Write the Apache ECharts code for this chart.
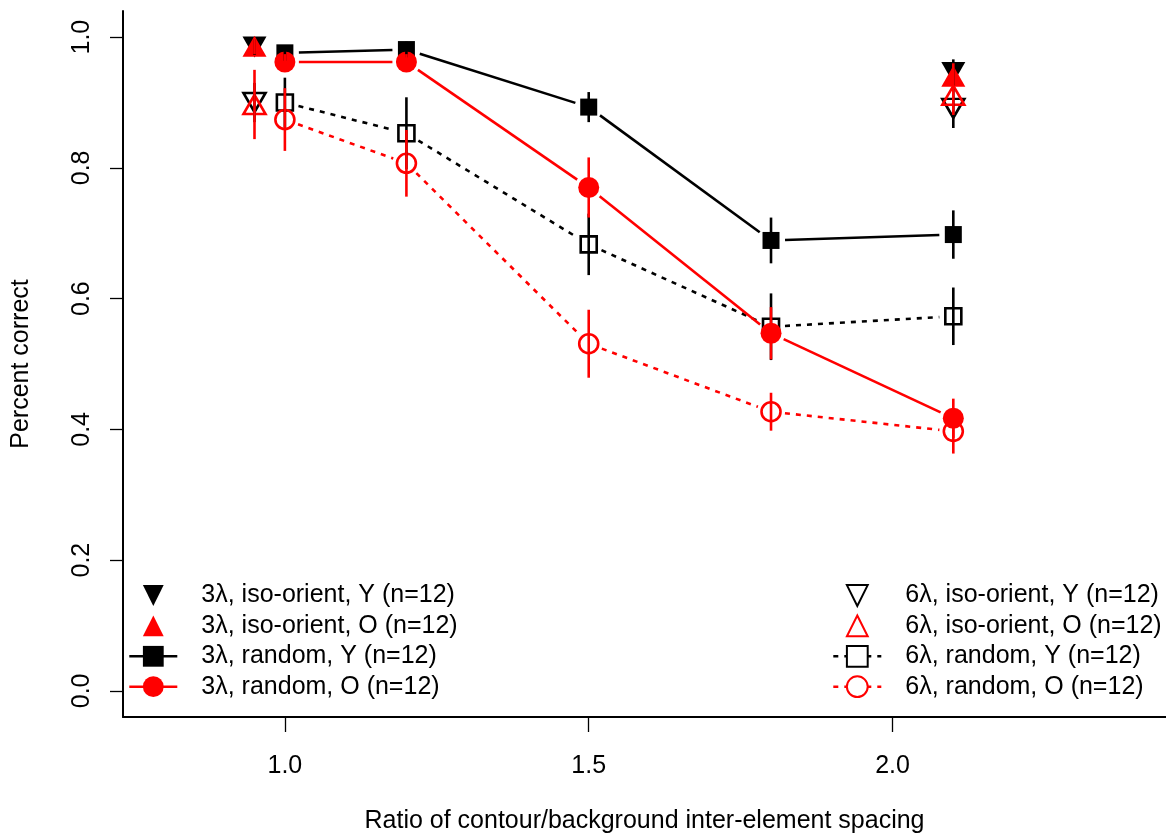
<!DOCTYPE html>
<html>
<head>
<meta charset="utf-8">
<script src="https://cdn.jsdelivr.net/npm/echarts@6/dist/echarts.min.js"></script>
<style>
  html, body { margin: 0; padding: 0; background: #fff; }
  #chart { width: 1166px; height: 833px; }
</style>
</head>
<body>
<div id="chart"></div>
<script>
// Spacing ratios
const xRandom = [1.0, 1.2, 1.5, 1.8, 2.1];
const xIso = [0.95, 2.1];
const xTicks = [1.0, 1.5, 2.0];
const yTicks = [0.0, 0.2, 0.4, 0.6, 0.8, 1.0];

// Mean percent correct and error half-widths
const iso3Y = [0.985, 0.946];
const iso3YErr = [0.012, 0.02];
const iso3O = [0.986, 0.940];
const iso3OErr = [0.012, 0.02];
const iso6Y = [0.900, 0.891];
const iso6YErr = [0.03, 0.03];
const iso6O = [0.897, 0.911];
const iso6OErr = [0.053, 0.03];

const rnd3Y = [0.976, 0.981, 0.893, 0.689, 0.698];
const rnd3YErr = [0.012, 0.012, 0.023, 0.035, 0.037];
const rnd3O = [0.962, 0.962, 0.770, 0.547, 0.417];
const rnd3OErr = [0.012, 0.012, 0.046, 0.040, 0.030];
const rnd6Y = [0.900, 0.853, 0.683, 0.557, 0.573];
const rnd6YErr = [0.038, 0.055, 0.047, 0.051, 0.044];
const rnd6O = [0.874, 0.807, 0.531, 0.427, 0.397];
const rnd6OErr = [0.048, 0.051, 0.052, 0.029, 0.034];

const names = [
  '3λ, iso-orient, Y (n=12)',
  '3λ, iso-orient, O (n=12)',
  '3λ, random, Y (n=12)',
  '3λ, random, O (n=12)',
  '6λ, iso-orient, Y (n=12)',
  '6λ, iso-orient, O (n=12)',
  '6λ, random, Y (n=12)',
  '6λ, random, O (n=12)'
];

const BLACK = '#000000';
const RED = '#ff0000';
const FONT = 'Liberation Sans, Arial, sans-serif';
const FS = 25;
const TRI_UP = 'path://M5,0 L10,8.66 L0,8.66 Z';
const TRI_DOWN = 'path://M0,0 L10,0 L5,8.66 Z';
const DOTS = [5, 6];

const pairs = (xs, ys) => xs.map((x, i) => [x, ys[i]]);
const bars = (xs, ys, es) => xs.map((x, i) => [x, ys[i] - es[i], ys[i] + es[i]]);
const segs = (xs, ys) => xs.slice(1).map((x, i) => [xs[i], ys[i], x, ys[i + 1]]);

// Vertical error bars
function errorSeries(xs, ys, es, color, z) {
  return {
    type: 'custom',
    silent: true,
    z: z,
    encode: { x: 0, y: [1, 2] },
    data: bars(xs, ys, es),
    renderItem: function (params, api) {
      const lo = api.coord([api.value(0), api.value(1)]);
      const hi = api.coord([api.value(0), api.value(2)]);
      return {
        type: 'line',
        shape: { x1: lo[0], y1: lo[1], x2: hi[0], y2: hi[1] },
        style: { stroke: color, lineWidth: 2.6 }
      };
    }
  };
}

// Connecting segments that stop short of each point
function gapLineSeries(xs, ys, color, dash, z) {
  const GAP = 14;
  return {
    type: 'custom',
    silent: true,
    z: z,
    encode: { x: [0, 2], y: [1, 3] },
    data: segs(xs, ys),
    renderItem: function (params, api) {
      const a = api.coord([api.value(0), api.value(1)]);
      const b = api.coord([api.value(2), api.value(3)]);
      const dx = b[0] - a[0], dy = b[1] - a[1];
      const len = Math.sqrt(dx * dx + dy * dy);
      const ux = dx / len, uy = dy / len;
      return {
        type: 'line',
        shape: {
          x1: a[0] + ux * GAP, y1: a[1] + uy * GAP,
          x2: b[0] - ux * GAP, y2: b[1] - uy * GAP
        },
        style: { stroke: color, lineWidth: 2.6, lineDash: dash || null, lineCap: 'butt' }
      };
    }
  };
}

function markerSeries(name, xs, ys, symbol, size, color, filled, z) {
  return {
    name: name,
    type: 'line',
    z: z,
    data: pairs(xs, ys),
    symbol: symbol,
    symbolSize: size,
    showSymbol: true,
    showAllSymbol: true,
    silent: true,
    lineStyle: { color: color, width: 2.6, opacity: 0 },
    itemStyle: filled
      ? { color: color, borderWidth: 0, opacity: 1 }
      : { color: 'rgba(0,0,0,0)', borderColor: color, borderWidth: 2.6, opacity: 1 },
    emphasis: { disabled: true },
    animation: false
  };
}

const series = [
  // 6λ random (dotted)
  gapLineSeries(xRandom, rnd6Y, BLACK, DOTS, 2),
  gapLineSeries(xRandom, rnd6O, RED, DOTS, 2),
  markerSeries(names[6], xRandom, rnd6Y, 'rect', 16, BLACK, false, 3),
  markerSeries(names[7], xRandom, rnd6O, 'circle', 19, RED, false, 3),
  errorSeries(xRandom, rnd6Y, rnd6YErr, BLACK, 4),
  errorSeries(xRandom, rnd6O, rnd6OErr, RED, 4),
  // 3λ random (solid)
  gapLineSeries(xRandom, rnd3Y, BLACK, null, 5),
  gapLineSeries(xRandom, rnd3O, RED, null, 5),
  markerSeries(names[2], xRandom, rnd3Y, 'rect', 17, BLACK, true, 6),
  markerSeries(names[3], xRandom, rnd3O, 'circle', 21, RED, true, 6),
  errorSeries(xRandom, rnd3Y, rnd3YErr, BLACK, 7),
  errorSeries(xRandom, rnd3O, rnd3OErr, RED, 7),
  // iso-orient points
  markerSeries(names[4], xIso, iso6Y, TRI_DOWN, [22, 19], BLACK, false, 8),
  markerSeries(names[5], xIso, iso6O, TRI_UP, [22, 19], RED, false, 8),
  markerSeries(names[0], xIso, iso3Y, TRI_DOWN, [24, 21], BLACK, true, 8),
  markerSeries(names[1], xIso, iso3O, TRI_UP, [24, 21], RED, true, 9),
  errorSeries(xIso, iso6Y, iso6YErr, BLACK, 10),
  errorSeries(xIso, iso6O, iso6OErr, RED, 10),
  errorSeries(xIso, iso3Y, iso3YErr, BLACK, 10),
  errorSeries(xIso, iso3O, iso3OErr, RED, 10)
];

function legendItems(list, dashed) {
  return list.map(function (n) {
    const isLine = n.indexOf('random') >= 0;
    const item = { name: n };
    if (isLine) {
      item.lineStyle = { opacity: 1, width: 2.6, type: dashed ? DOTS : 'solid' };
      if (dashed) item.itemStyle = { color: '#ffffff' };
    }
    return item;
  });
}

const legendCommon = {
  orient: 'vertical',
  itemWidth: 48,
  itemHeight: 26,
  itemGap: 5.4,
  selectedMode: false,
  textStyle: { fontFamily: FONT, fontSize: FS, color: '#000', padding: [0, 0, 0, 19] }
};

const option = {
  backgroundColor: '#ffffff',
  animation: false,
  grid: { left: 123, right: 0, top: 11, bottom: 116, containLabel: false, outerBoundsMode: 'none' },
  xAxis: {
    type: 'value',
    min: 0.7336,
    max: 2.45,
    name: 'Ratio of contour/background inter-element spacing',
    nameLocation: 'middle',
    nameGap: 92,
    nameTextStyle: { fontFamily: FONT, fontSize: FS, color: '#000' },
    splitLine: { show: false },
    axisLine: { show: true, onZero: false, lineStyle: { color: '#000', width: 2 } },
    axisTick: { show: true, customValues: xTicks, length: 15, lineStyle: { color: '#000', width: 1.3 } },
    axisLabel: {
      customValues: xTicks,
      formatter: function (v) { return v.toFixed(1); },
      fontFamily: FONT, fontSize: FS, color: '#000', margin: 37
    }
  },
  yAxis: {
    type: 'value',
    min: -0.04,
    max: 1.04,
    name: 'Percent correct',
    nameLocation: 'middle',
    nameGap: 89,
    nameRotate: 90,
    nameTextStyle: { fontFamily: FONT, fontSize: FS, color: '#000' },
    splitLine: { show: false },
    axisLine: { show: true, onZero: false, lineStyle: { color: '#000', width: 2 } },
    axisTick: { show: true, customValues: yTicks, length: 13, lineStyle: { color: '#000', width: 1.3 } },
    axisLabel: {
      customValues: yTicks,
      rotate: 90,
      formatter: function (v) { return v.toFixed(1); },
      fontFamily: FONT, fontSize: FS, color: '#000', margin: 28
    }
  },
  legend: [
    Object.assign({}, legendCommon, { left: 123, top: 578, data: legendItems(names.slice(0, 4), false) }),
    Object.assign({}, legendCommon, { left: 827, top: 578, data: legendItems(names.slice(4, 8), true) })
  ],
  series: series
};

const chart = echarts.init(document.getElementById('chart'), null, { renderer: 'canvas' });
chart.setOption(option);
</script>
</body>
</html>
